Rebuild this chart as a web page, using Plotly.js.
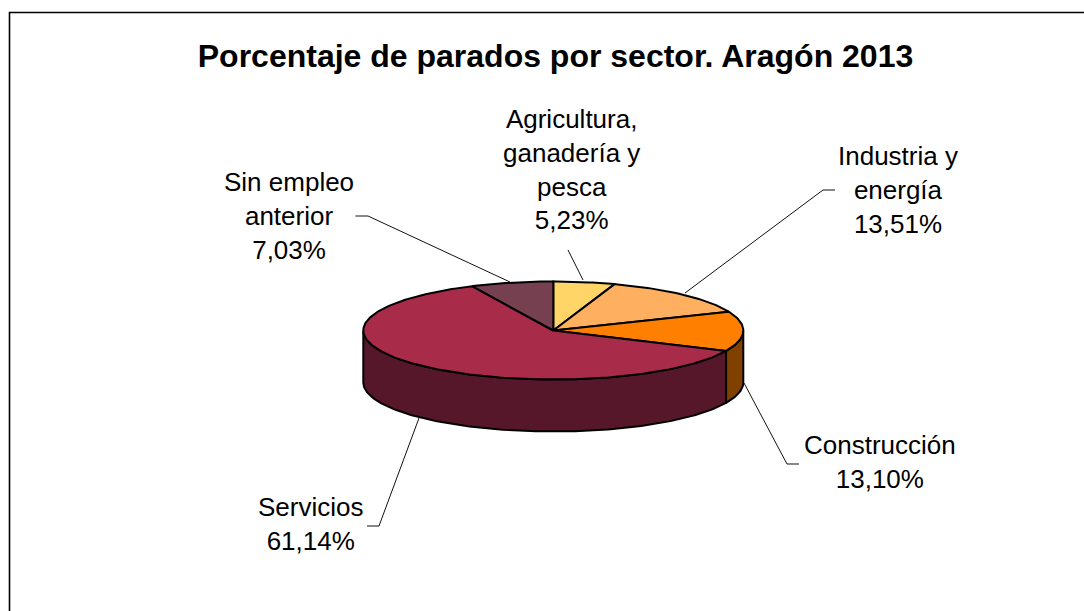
<!DOCTYPE html>
<html>
<head>
<meta charset="utf-8">
<script src="https://cdn.plot.ly/plotly-3.0.1.min.js"></script>
<style>html,body{margin:0;padding:0;background:#fff;overflow:hidden}#chart{width:1084px;height:611px}</style>
</head>
<body>
<div id="chart"></div>
<script>
// Data
const categories = ["Agricultura,<br>ganadería y<br>pesca", "Industria y<br>energía", "Construcción", "Servicios", "Sin empleo<br>anterior"];
const values = [5.23, 13.51, 13.10, 61.14, 7.03];
const topColors = ["#FFD568", "#FFAF60", "#FF8000", "#A92B4A", "#774050"];
const sideColors = ["#7F6B34", "#7F5730", "#7F4000", "#551729", "#3B2028"];
const labelX = [571, 898, 880, 310, 289];
const labelY = [169, 190, 462, 524, 216];

// Projection of the tilted disc, in pixels of the axes below
const cx = 553.3, cy = 330.5, rx = 190, ry = 49, depth = 52;
const total = values.reduce((a, b) => a + b, 0);

function rimX(deg) { return cx + rx * Math.sin(deg * Math.PI / 180); }
function rimY(deg) { return cy - ry * Math.cos(deg * Math.PI / 180); }
function arc(a, b) {
  const out = [], n = Math.max(2, Math.ceil(Math.abs(b - a)));
  for (let i = 0; i <= n; i++) out.push(a + (b - a) * i / n);
  return out;
}

const spans = [];
let acc = 0;
values.forEach(v => { const s = acc / total * 360; acc += v; spans.push([s, acc / total * 360]); });

const traces = [];
// Visible wall: the rim between 90 and 270 degrees
spans.forEach((sp, i) => {
  const a = Math.max(sp[0], 90), b = Math.min(sp[1], 270);
  if (b <= a) return;
  const t = arc(a, b), r = t.slice().reverse();
  traces.push({
    type: "scatter", mode: "lines", fill: "toself", fillcolor: sideColors[i],
    x: t.map(rimX).concat(r.map(rimX), [rimX(a)]),
    y: t.map(rimY).concat(r.map(d => rimY(d) + depth), [rimY(a)]),
    line: {color: "#000", width: 2}, hoverinfo: "skip", showlegend: false
  });
});
// Top faces
spans.forEach((sp, i) => {
  const t = arc(sp[0], sp[1]);
  traces.push({
    type: "scatter", mode: "lines", fill: "toself", fillcolor: topColors[i],
    x: [cx].concat(t.map(rimX), [cx]),
    y: [cy].concat(t.map(rimY), [cy]),
    line: {color: "#000", width: 2},
    name: categories[i].replace(/<br>/g, " "), hoverinfo: "name", showlegend: false
  });
});

const fmt = v => v.toFixed(2).replace(".", ",") + "%";
const annotations = categories.map((c, i) => ({
  text: c + "<br>" + fmt(values[i]),
  x: labelX[i], y: labelY[i], xref: "x", yref: "y",
  xanchor: "center", yanchor: "middle", showarrow: false, align: "center",
  font: {family: "Liberation Sans, Arial, sans-serif", size: 26, color: "#000"}
}));

const leader = d => ({type: "path", path: d, xref: "x", yref: "y", line: {color: "#111", width: 1}, layer: "below"});
const shapes = [
  {type: "path", xref: "x", yref: "y", path: "M9.5,640 L9.5,12.5 L1110,12.5", line: {color: "#000", width: 1.6}},
  leader("M568,250 L583,280"),
  leader("M835,190 L823,190 L685,293"),
  leader("M799,464 L787,464 L744,383"),
  leader("M367,526 L379,526 L419,418"),
  leader("M355.5,216 L368,216 L510,282")
];

const hidden = {visible: false, fixedrange: true};
Plotly.newPlot("chart", traces, {
  width: 1084, height: 611,
  margin: {l: 0, r: 0, t: 0, b: 0, pad: 0},
  paper_bgcolor: "#fff", plot_bgcolor: "#fff",
  title: {
    text: "<b>Porcentaje de parados por sector. Aragón 2013</b>",
    x: 555.5 / 1084, xref: "paper", xanchor: "center",
    y: 1 - 56 / 611, yref: "paper", yanchor: "middle",
    font: {family: "Liberation Sans, Arial, sans-serif", size: 32, color: "#000"}
  },
  xaxis: Object.assign({range: [0, 1084]}, hidden),
  yaxis: Object.assign({range: [611, 0]}, hidden),
  annotations, shapes, showlegend: false
}, {displayModeBar: false});
</script>
</body>
</html>
